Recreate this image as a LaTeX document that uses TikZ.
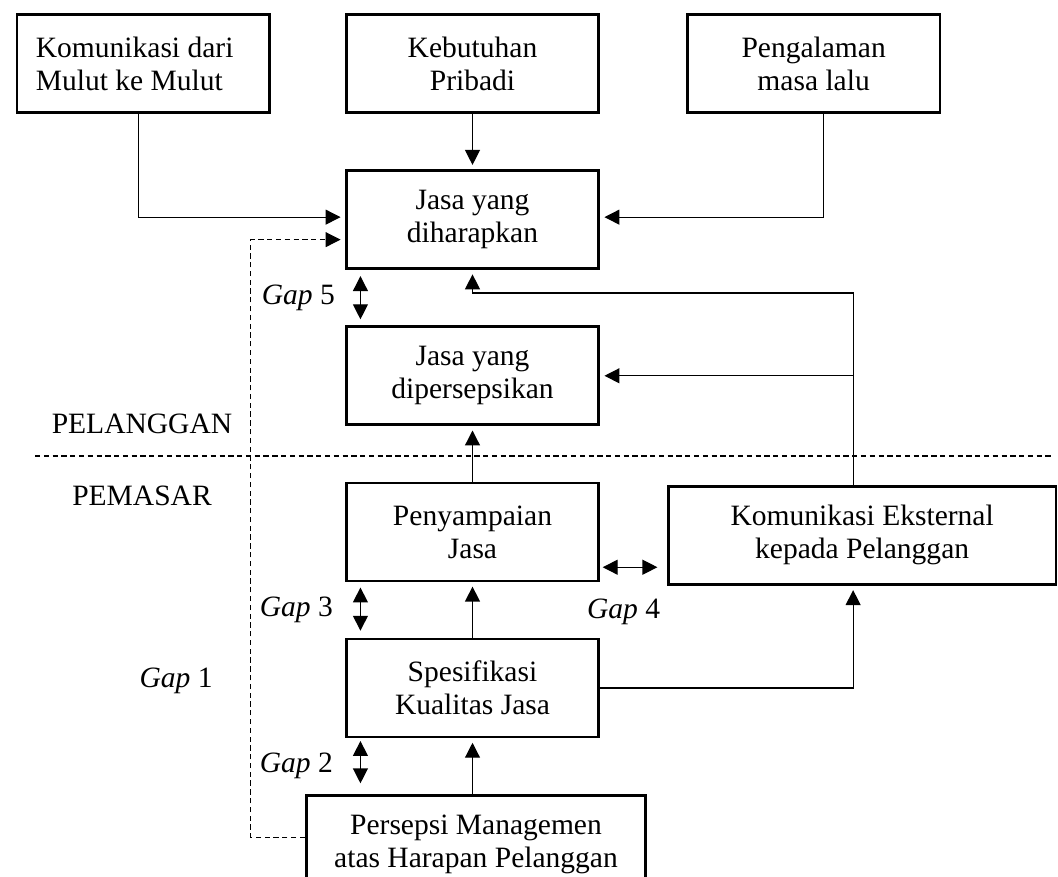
\documentclass[tikz,border=0pt]{standalone}
\usepackage{fontspec}
\setmainfont{Liberation Serif}
\usetikzlibrary{positioning,arrows.meta}

\tikzset{
	kotak/.style={draw, line width=1.5pt, minimum width=5.05cm, minimum height=1.96cm, align=center},
	garis/.style={line width=0.7pt},
	putus/.style={line width=0.6pt, dash pattern=on 3pt off 2pt},
	teks/.style={inner sep=0pt}
}

\begin{document}
\begin{tikzpicture}[>={Triangle[length=8.5pt,width=8.5pt]},shorten >=2.5pt,node distance=1.11cm,font=\fontsize{16.8}{18.8}\selectfont]
	\useasboundingbox (0,0) rectangle (21.16,-17.52);
	\clip (0,0) rectangle (21.16,-17.52);
	\node[kotak] (kp) at (9.45,-1.27) {Kebutuhan\\Pribadi};
	\node[kotak,text width=4.3cm,align=flush left] (mm) [left=1.48cm of kp] {Komunikasi dari\\Mulut ke Mulut};
	\node[kotak] (pm) [right=1.72cm of kp] {Pengalaman\\masa lalu};
	\node[kotak] (jdh) [below=of kp] {Jasa yang\\diharapkan};
	\node[kotak] (jdp) [below=of jdh] {Jasa yang\\dipersepsikan};
	\node[kotak] (pj) [below=of jdp] {Penyampaian\\Jasa};
	\node[kotak] (sk) [below=of pj] {Spesifikasi\\Kualitas Jasa};
	\node[kotak,minimum width=6.79cm] (pmh) [below=of sk,xshift=0.07cm] {Persepsi Managemen\\atas Harapan Pelanggan};
	\node[kotak,minimum width=7.75cm] (ke) [right=1.34cm of pj,yshift=-0.07cm] {Komunikasi Eksternal\\kepada Pelanggan};
	
	\node[teks] (plg) at (2.84,-8.48) {PELANGGAN};
	\node[teks] (pms) [below=1.03cm of plg] {PEMASAR};
	\coordinate (ga) at (0.7,-9.12);
	\coordinate (gb) at (21.14,-9.12);
	\draw[putus] (ga) -- (gb);
	
	\coordinate (kn) at ([xshift=-0.18cm]ke.north);
	\coordinate (ks) at ([xshift=-0.18cm]ke.south);
	\path ([yshift=-0.4cm]jdh.west) ++(-1.88,0) coordinate (lft);
	
	\draw[garis,->] (kp) -- (jdh);
	\draw[garis,->] ([xshift=-0.09cm]mm.south) |- ([yshift=0.05cm]jdh.west);
	\draw[garis,->] ([xshift=0.2cm]pm.south) |- ([yshift=0.05cm]jdh.east);
	\draw[putus,->] ([yshift=0.14cm]pmh.west) -| (lft) -- ([yshift=-0.4cm]jdh.west);
	\draw[garis,->] (kn) |- ([yshift=-0.46cm]jdh.south) -- (jdh.south);
	\draw[garis,->] (kn |- jdp.east) -- (jdp.east);
	\draw[garis,->] (pj) -- (jdp);
	\draw[garis,->] (sk) -- (pj);
	\draw[garis,->] (sk.south |- pmh.north) -- (sk.south);
	\draw[garis,->] (sk.east) -| (ks);
	
	% gap
	\coordinate (g2) at ([xshift=0.31cm]sk.south west);
	\coordinate (g4) at ([yshift=0.3cm]pj.south east);
	\coordinate (g1) at (lft |- sk.west);
	\draw[garis,<->,shorten <=3.5pt,shorten >=3.5pt] ([xshift=0.31cm]jdh.south west) -- node[teks,left=0.5cm] {\textit{Gap} 5} ([xshift=0.31cm]jdp.north west);
	\draw[garis,<->,shorten <=3pt,shorten >=4pt] ([xshift=0.31cm]pj.south west) -- node[teks,left=0.54cm] {\textit{Gap} 3} ([xshift=0.31cm]sk.north west);
	\draw[garis,<->,shorten <=1.5pt,shorten >=6pt] (g2) -- node[teks,left=0.54cm] {\textit{Gap} 2} (g2 |- pmh.north);
	\draw[garis,<->,shorten <=1.5pt,shorten >=5.5pt] (g4) -- node[teks,below=0.62cm,xshift=-0.2cm] {\textit{Gap} 4} (g4 -| ke.west);
	\node[teks] (gap1) [left=0.76cm of g1,yshift=0.14cm] {\textit{Gap} 1};
\end{tikzpicture}
\end{document}
